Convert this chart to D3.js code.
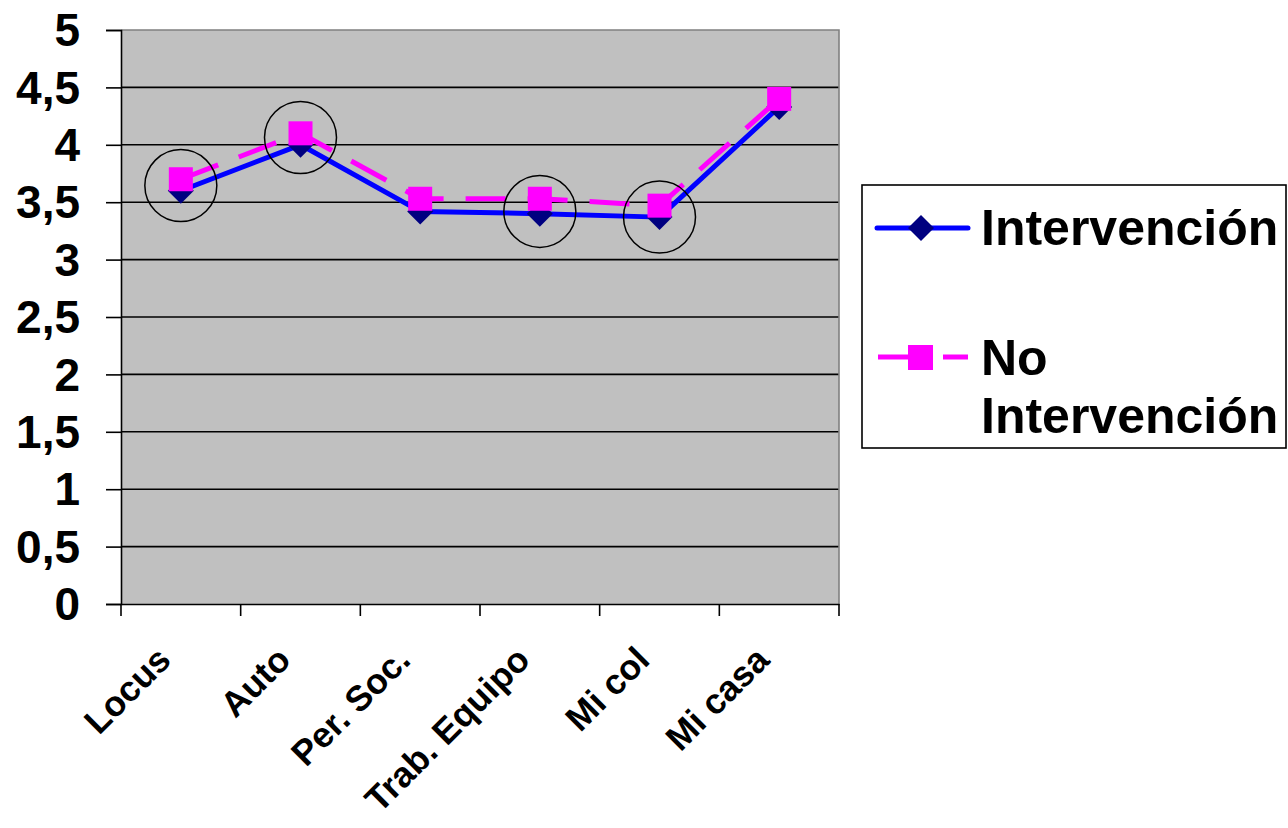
<!DOCTYPE html>
<html>
<head>
<meta charset="utf-8">
<script src="https://cdn.jsdelivr.net/npm/d3@7"></script>
<style>
  html, body { margin: 0; padding: 0; background: #ffffff; }
  svg { display: block; font-family: "Liberation Sans", Arial, sans-serif; }
</style>
</head>
<body>
<svg id="chart" width="1288" height="828"></svg>
<script>
const categories = ["Locus", "Auto", "Per. Soc.", "Trab. Equipo", "Mi col", "Mi casa"];
const intervencion = [3.6, 4.0, 3.42, 3.40, 3.37, 4.33];
const noIntervencion = [3.7, 4.1, 3.53, 3.53, 3.47, 4.40];
const yTicks = [0, 0.5, 1, 1.5, 2, 2.5, 3, 3.5, 4, 4.5, 5];
const seriesNames = ["Intervención", "No Intervención"];
// annotation circles (category, centre value)
const circledCategories = ["Locus", "Auto", "Trab. Equipo", "Mi col"];
const circledValues = [3.645, 4.064, 3.42, 3.37];

const svg = d3.select("#chart");
const L = 121, R = 839, T = 30, B = 604;

const x = d3.scaleBand().domain(categories).range([L, R]).paddingInner(0).paddingOuter(0);
const y = d3.scaleLinear().domain([0, 5]).range([B, T]);
const cx = c => x(c) + x.bandwidth() / 2;
const fmt = v => String(v).replace(".", ",");

// plot area
svg.append("rect").attr("x", L).attr("y", T).attr("width", R - L).attr("height", B - T)
  .attr("fill", "#c0c0c0");

// grid lines
svg.append("g").selectAll("line").data(yTicks.filter(v => v > 0 && v < 5)).join("line")
  .attr("x1", L).attr("x2", R).attr("y1", d => y(d)).attr("y2", d => y(d))
  .attr("stroke", "#000").attr("stroke-width", 1.6);

// top & right border (grey)
svg.append("path")
  .attr("d", `M${L},${T}H${R}V${B}`)
  .attr("fill", "none").attr("stroke", "#808080").attr("stroke-width", 1.6);

// y axis
const yAxis = d3.axisLeft(y).tickValues(yTicks).tickSize(15).tickPadding(26).tickFormat(fmt);
const gy = svg.append("g").attr("transform", `translate(${L},0)`).call(yAxis);
gy.select(".domain").attr("stroke", "#000").attr("stroke-width", 1.6);
gy.selectAll(".tick line").attr("stroke", "#000").attr("stroke-width", 1.6);
gy.selectAll(".tick text").attr("fill", "#000").attr("font-size", 46).attr("font-weight", "bold")
  .attr("font-family", "Liberation Sans, Arial, sans-serif").attr("dy", "0.34em");

// x axis
const xAxis = d3.axisBottom(x).tickSize(0).tickFormat("");
const gx = svg.append("g").attr("transform", `translate(0,${B})`).call(xAxis);
gx.select(".domain").attr("stroke", "#000").attr("stroke-width", 1.6);
// tick marks on band boundaries
const boundaries = categories.map(c => x(c)).concat([R]);
svg.append("g").selectAll("line").data(boundaries).join("line")
  .attr("x1", d => d).attr("x2", d => d).attr("y1", B).attr("y2", B + 12)
  .attr("stroke", "#000").attr("stroke-width", 1.6);
// x labels rotated
svg.append("g").selectAll("text").data(categories).join("text")
  .attr("transform", d => `translate(${cx(d) - 8},${B + 58}) rotate(-45)`)
  .attr("text-anchor", "end")
  .attr("font-size", 35.5).attr("font-weight", "bold").attr("fill", "#000")
  .text(d => d);

// lines
const line = d3.line().x((d, i) => cx(categories[i])).y(d => y(d));
svg.append("path").datum(intervencion).attr("d", line)
  .attr("fill", "none").attr("stroke", "#0000ff").attr("stroke-width", 5).attr("stroke-linejoin", "round");
const diamond = (px, py, s) => `M${px},${py - s}L${px + s},${py}L${px},${py + s}L${px - s},${py}Z`;
svg.append("g").selectAll("path").data(intervencion).join("path")
  .attr("d", (d, i) => diamond(cx(categories[i]), y(d), 13))
  .attr("fill", "#000080");

svg.append("path").datum(noIntervencion).attr("d", line)
  .attr("fill", "none").attr("stroke", "#ff00ff").attr("stroke-width", 5).attr("stroke-dasharray", "40,22");
svg.append("g").selectAll("rect").data(noIntervencion).join("rect")
  .attr("x", (d, i) => cx(categories[i]) - 12).attr("y", d => y(d) - 12)
  .attr("width", 24).attr("height", 24).attr("fill", "#ff00ff");

// annotation circles
svg.append("g").selectAll("circle").data(circledCategories).join("circle")
  .attr("cx", d => cx(d)).attr("cy", (d, i) => y(circledValues[i])).attr("r", 36)
  .attr("fill", "none").attr("stroke", "#000").attr("stroke-width", 1.5);

// legend
const lg = svg.append("g");
lg.append("rect").attr("x", 862).attr("y", 185).attr("width", 424).attr("height", 263)
  .attr("fill", "#fff").attr("stroke", "#000").attr("stroke-width", 1.6);
lg.append("line").attr("x1", 877).attr("x2", 968).attr("y1", 228).attr("y2", 228)
  .attr("stroke", "#0000ff").attr("stroke-width", 5).attr("stroke-linecap", "round");
lg.append("path").attr("d", diamond(921, 228, 13)).attr("fill", "#000080");
lg.append("text").attr("x", 981).attr("y", 245).attr("font-size", 50).attr("font-weight", "bold")
  .text(seriesNames[0]);
lg.append("line").attr("x1", 878).attr("x2", 968).attr("y1", 357).attr("y2", 357)
  .attr("stroke", "#ff00ff").attr("stroke-width", 5).attr("stroke-dasharray", "30,35,25");
lg.append("rect").attr("x", 908).attr("y", 345).attr("width", 25).attr("height", 25).attr("fill", "#ff00ff");
const t2 = lg.append("text").attr("x", 981).attr("y", 375).attr("font-size", 50).attr("font-weight", "bold");
t2.append("tspan").attr("x", 981).text("No");
t2.append("tspan").attr("x", 981).attr("dy", 58).text("Intervención");
</script>
</body>
</html>
